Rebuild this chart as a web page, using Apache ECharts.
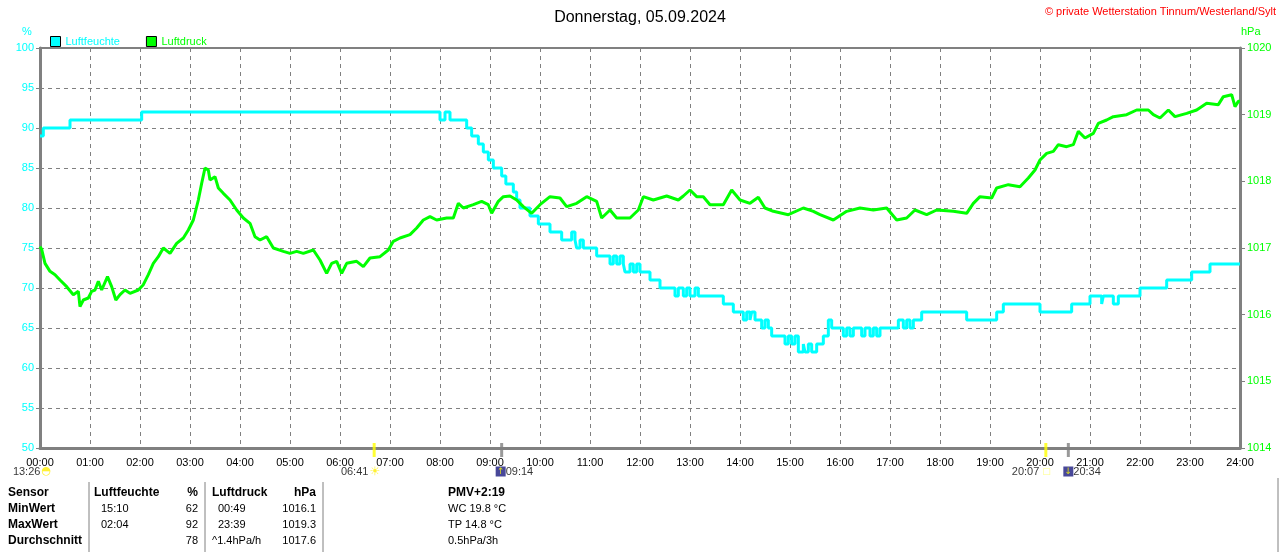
<html>
	<head>
		<meta charset="utf-8">
		<title>Donnerstag, 05.09.2024</title>
		<script src="https://cdn.jsdelivr.net/npm/echarts@6/dist/echarts.min.js"></script>
		<style>
			body { margin: 0px; background: #fff; }
			#main { width: 1280px; height: 552px; }
		</style>
	</head>
	<body>
		<div id="main"></div>
		<script type="text/javascript">
			// Zeit in Minuten seit 00:00
			var humTimes = [0, 4, 36, 122, 480, 486, 492, 512, 518, 526, 532, 538, 544, 554, 559, 568, 572, 576, 588, 598, 612, 626, 638, 642, 644, 648, 652, 668, 684, 688, 692, 696, 700, 702, 708, 712, 716, 720, 732, 744, 762, 766, 772, 776, 780, 786, 790, 820, 832, 844, 848, 852, 854, 858, 866, 870, 874, 878, 894, 898, 902, 906, 910, 916, 918, 922, 926, 932, 940, 946, 950, 964, 968, 972, 976, 986, 990, 996, 1000, 1004, 1008, 1016, 1030, 1036, 1040, 1044, 1048, 1058, 1112, 1148, 1156, 1200, 1238, 1260, 1274, 1276, 1288, 1294, 1320, 1352, 1382, 1404, 1440];
			var humValues = [89, 90, 91, 92, 91, 92, 91, 90, 89, 88, 87, 86, 85, 84, 83, 82, 81, 80, 79, 78, 77, 76, 77, 76, 75, 76, 75, 74, 73, 74, 73, 74, 73, 72, 73, 72, 73, 72, 71, 70, 69, 70, 69, 70, 69, 70, 69, 68, 67, 66, 67, 66, 67, 66, 65, 66, 65, 64, 63, 64, 63, 64, 62, 63, 62, 63, 62, 63, 64, 66, 65, 64, 65, 64, 65, 64, 65, 64, 65, 64, 65, 65, 66, 65, 66, 65, 66, 67, 66, 67, 68, 67, 68, 69, 68, 69, 68, 69, 70, 71, 72, 73, 73];

			var pressTimes = [0, 2, 6, 12, 18, 24, 32, 40, 46, 48, 52, 58, 62, 66, 70, 74, 81, 86, 91, 96, 102, 108, 118, 124, 130, 136, 142, 148, 156, 164, 172, 178, 184, 190, 194, 198, 202, 204, 210, 214, 220, 228, 236, 244, 252, 258, 264, 272, 280, 292, 300, 308, 316, 328, 336, 344, 350, 356, 362, 368, 380, 388, 396, 408, 418, 424, 432, 444, 452, 460, 468, 476, 488, 496, 502, 508, 520, 530, 538, 542, 550, 556, 564, 572, 580, 590, 600, 612, 624, 632, 644, 656, 668, 674, 684, 692, 708, 718, 724, 736, 752, 766, 772, 780, 788, 796, 804, 820, 830, 840, 852, 862, 870, 880, 898, 916, 928, 936, 952, 968, 984, 1000, 1016, 1028, 1040, 1050, 1064, 1076, 1096, 1112, 1120, 1128, 1142, 1148, 1162, 1176, 1186, 1194, 1200, 1208, 1216, 1222, 1232, 1240, 1246, 1254, 1264, 1270, 1280, 1288, 1304, 1316, 1330, 1336, 1344, 1354, 1362, 1376, 1388, 1400, 1414, 1420, 1430, 1434, 1438, 1440];
			var pressValues = [1017.02, 1016.98, 1016.77, 1016.65, 1016.6, 1016.52, 1016.42, 1016.3, 1016.35, 1016.12, 1016.22, 1016.25, 1016.35, 1016.37, 1016.5, 1016.37, 1016.57, 1016.42, 1016.22, 1016.3, 1016.37, 1016.32, 1016.37, 1016.45, 1016.6, 1016.77, 1016.87, 1017.0, 1016.92, 1017.07, 1017.15, 1017.27, 1017.42, 1017.72, 1017.97, 1018.2, 1018.17, 1018.02, 1018.07, 1017.9, 1017.82, 1017.72, 1017.57, 1017.45, 1017.37, 1017.17, 1017.12, 1017.17, 1017.0, 1016.95, 1016.92, 1016.95, 1016.92, 1016.97, 1016.82, 1016.62, 1016.77, 1016.8, 1016.62, 1016.77, 1016.8, 1016.72, 1016.85, 1016.87, 1016.97, 1017.1, 1017.15, 1017.2, 1017.3, 1017.42, 1017.47, 1017.42, 1017.45, 1017.45, 1017.67, 1017.6, 1017.65, 1017.7, 1017.65, 1017.52, 1017.7, 1017.77, 1017.78, 1017.72, 1017.62, 1017.52, 1017.65, 1017.77, 1017.75, 1017.62, 1017.67, 1017.77, 1017.7, 1017.45, 1017.57, 1017.45, 1017.45, 1017.57, 1017.77, 1017.72, 1017.78, 1017.72, 1017.78, 1017.87, 1017.77, 1017.77, 1017.65, 1017.65, 1017.87, 1017.72, 1017.67, 1017.76, 1017.6, 1017.55, 1017.5, 1017.6, 1017.55, 1017.5, 1017.42, 1017.55, 1017.6, 1017.57, 1017.6, 1017.42, 1017.45, 1017.57, 1017.5, 1017.57, 1017.55, 1017.52, 1017.67, 1017.77, 1017.75, 1017.9, 1017.95, 1017.92, 1018.05, 1018.17, 1018.32, 1018.42, 1018.45, 1018.55, 1018.52, 1018.55, 1018.75, 1018.65, 1018.72, 1018.87, 1018.92, 1018.97, 1019.0, 1019.07, 1019.07, 1019.0, 1018.95, 1019.07, 1018.97, 1019.02, 1019.07, 1019.17, 1019.15, 1019.27, 1019.3, 1019.12, 1019.2, 1019.2];

			// Sonne / Mond unter der Zeitachse
			var astroTimes = [0, 401, 554, 1207, 1234];
			var astroLabels = ['13:26', '06:41', '09:14', '20:07', '20:34'];
			var astroKinds = ['moonLabel', 'sunrise', 'moonrise', 'sunset', 'moonset'];

			// Tabelle
			var tableRows = ['Sensor', 'MinWert', 'MaxWert', 'Durchschnitt'];
			var humTable = ['Luftfeuchte', '15:10', '02:04', ''];
			var humTableVal = ['%', '62', '92', '78'];
			var pressTable = ['Luftdruck', '00:49', '23:39', '^1.4hPa/h'];
			var pressTableVal = ['hPa', '1016.1', '1019.3', '1017.6'];
			var extraTable = ['PMV+2:19', 'WC 19.8 °C', 'TP 14.8 °C', '0.5hPa/3h'];

			var FONT = '"Liberation Sans", Arial, sans-serif';
			var CYAN = '#00ffff';
			var GREEN = '#00ff00';
			var GRAY = '#808080';

			function pad(n) { return (n < 10 ? '0' : '') + n; }

			var humData = humTimes.map(function(t, i) { return [t, humValues[i]]; });
			var pressData = pressTimes.map(function(t, i) { return [t, pressValues[i]]; });

			var astroData = astroTimes.map(function(t, i) {
				var kind = astroKinds[i];
				var item = { value: [t, 50], itemStyle: { color: kind.indexOf('sun') == 0 ? '#ffff00' : (kind == 'moonLabel' ? 'rgba(0,0,0,0)' : GRAY) } };
				var lbl = { show: true, position: 'bottom', distance: 9 };
				if (kind == 'moonLabel') {
					lbl.formatter = '{t|' + astroLabels[i] + '}{half|◓}';
					lbl.align = 'right'; lbl.offset = [11, 0];
				} else if (kind == 'sunrise') {
					lbl.formatter = '{t|' + astroLabels[i] + '}{sun|☀}';
					lbl.align = 'right'; lbl.offset = [6, 0];
				} else if (kind == 'sunset') {
					lbl.formatter = '{t|' + astroLabels[i] + '}{sq|□}';
					lbl.align = 'right'; lbl.offset = [5, 0];
				} else if (kind == 'moonrise') {
					lbl.formatter = '{moon|↑}{t|' + astroLabels[i] + '}';
					lbl.align = 'left'; lbl.offset = [-6, 0];
				} else {
					lbl.formatter = '{moon|↓}{t|' + astroLabels[i] + '}';
					lbl.align = 'left'; lbl.offset = [-5, 0];
				}
				item.label = lbl;
				return item;
			});

			var graphics = [];
			graphics.push({ type: 'text', left: 22, top: 26, style: { text: '%', font: '11px ' + FONT, fill: CYAN } });
			graphics.push({ type: 'text', left: 1241, top: 26, style: { text: 'hPa', font: '11px ' + FONT, fill: GREEN } });
			graphics.push({ type: 'text', right: 4, top: 6, style: { text: '© private Wetterstation Tinnum/Westerland/Sylt', font: '11px ' + FONT, fill: '#ff0000' } });

			// Trennlinien der Tabelle
			[89, 205, 323].forEach(function(x) {
				graphics.push({ type: 'line', shape: { x1: x, y1: 482, x2: x, y2: 552 }, style: { stroke: GRAY, lineWidth: 1 } });
			});
			graphics.push({ type: 'line', shape: { x1: 1278, y1: 478, x2: 1278, y2: 552 }, style: { stroke: GRAY, lineWidth: 1 } });

			function cell(text, x, y, bold, align) {
				graphics.push({
					type: 'text', x: x, y: y,
					style: {
						text: text, x: 0, y: 0,
						font: (bold ? 'bold 12px ' : '11px ') + FONT,
						fill: '#000', align: align || 'left', verticalAlign: 'middle',
						textAlign: align || 'left', textVerticalAlign: 'middle'
					}
				});
			}
			var rowY = [493, 509, 525, 541];
			for (var r = 0; r < 4; r++) {
				var head = r == 0;
				cell(tableRows[r], 8, rowY[r], true);
				cell(humTable[r], head ? 94 : 101, rowY[r], head);
				cell(humTableVal[r], 198, rowY[r], head, 'right');
				cell(pressTable[r], (head || r == 3) ? 212 : 218, rowY[r], head);
				cell(pressTableVal[r], 316, rowY[r], head, 'right');
				cell(extraTable[r], 448, rowY[r], head);
			}

			var chart = echarts.init(document.getElementById('main'));
			chart.setOption({
				animation: false,
				backgroundColor: '#ffffff',
				textStyle: { fontFamily: FONT },
				title: {
					text: 'Donnerstag, 05.09.2024',
					left: 'center',
					top: 5,
					textStyle: { color: '#000', fontSize: 16, fontWeight: 'normal', fontFamily: FONT }
				},
				legend: {
					left: 45,
					top: 31,
					icon: 'rect',
					itemWidth: 10,
					itemHeight: 10,
					itemGap: 26,
					itemStyle: { borderColor: '#000', borderWidth: 1 },
					textStyle: { fontSize: 11, fontFamily: FONT, padding: [1, 0, 0, 0] },
					data: [
						{ name: 'Luftfeuchte', textStyle: { color: CYAN } },
						{ name: 'Luftdruck', textStyle: { color: GREEN } }
					]
				},
				grid: {
					left: 40, right: 40, top: 48, bottom: 104,
					show: true, borderColor: GRAY, borderWidth: 2
				},
				xAxis: {
					type: 'value',
					min: 0, max: 1440, interval: 60,
					axisLine: { lineStyle: { color: GRAY, width: 3 } },
					axisTick: { show: false },
					axisLabel: {
						color: '#000', fontSize: 11, margin: 9, fontFamily: FONT,
						formatter: function(v) { return pad(v / 60) + ':00'; }
					},
					splitLine: { show: true, lineStyle: { color: GRAY, type: [4, 4], width: 1 } }
				},
				yAxis: [{
					type: 'value',
					min: 50, max: 100, interval: 5,
					position: 'left',
					axisLine: { show: true, lineStyle: { color: GRAY, width: 3 } },
					axisTick: { show: true, length: 4, lineStyle: { color: GRAY } },
					axisLabel: { color: CYAN, fontSize: 11, margin: 6, fontFamily: FONT },
					splitLine: { show: true, lineStyle: { color: GRAY, type: [4, 4], width: 1 } }
				}, {
					type: 'value',
					min: 1014, max: 1020, interval: 1,
					position: 'right',
					axisLine: { show: true, lineStyle: { color: GRAY, width: 3 } },
					axisTick: { show: true, length: 5, lineStyle: { color: GRAY } },
					axisLabel: {
						color: GREEN, fontSize: 11, margin: 7, fontFamily: FONT,
						formatter: function(v) { return String(v); }
					},
					splitLine: { show: false }
				}],
				series: [{
					name: 'Luftfeuchte',
					type: 'line',
					step: 'end',
					yAxisIndex: 0,
					symbol: 'none',
					itemStyle: { color: CYAN },
					lineStyle: { color: CYAN, width: 3 },
					data: humData
				}, {
					name: 'Luftdruck',
					type: 'line',
					yAxisIndex: 1,
					symbol: 'none',
					itemStyle: { color: GREEN },
					lineStyle: { color: GREEN, width: 3 },
					data: pressData
				}, {
					name: 'Astro',
					type: 'scatter',
					yAxisIndex: 0,
					clip: false,
					symbol: 'rect',
					symbolSize: [3, 14],
					symbolOffset: [0, 2],
					z: 5,
					label: {
						rich: {
							t: { color: '#000', fontSize: 11, fontFamily: FONT },
							sun: { color: '#ffee00', fontSize: 12, fontFamily: 'DejaVu Sans', padding: [0, 0, 0, 1] },
							half: { color: '#ffee00', fontSize: 11, fontFamily: 'DejaVu Sans', padding: [0, 0, 0, 1] },
							sq: { color: '#ffff66', fontSize: 9, fontFamily: 'DejaVu Sans', padding: [0, 0, 0, 3] },
							moon: { color: '#ffff00', backgroundColor: '#1a1a80', fontSize: 9, width: 10, height: 10, align: 'center', fontFamily: 'DejaVu Sans' }
						}
					},
					data: astroData
				}],
				graphic: graphics
			});
		</script>
	</body>
</html>
